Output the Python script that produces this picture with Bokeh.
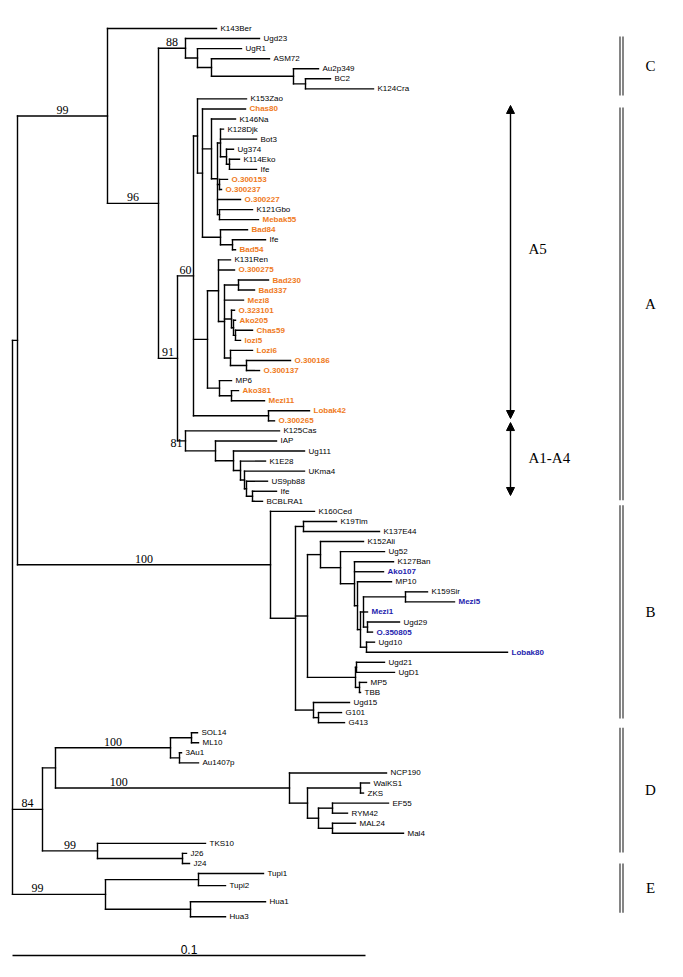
from bokeh.plotting import figure
from bokeh.models import Range1d, Arrow, NormalHead, ColumnDataSource
from bokeh.embed import file_html
from bokeh.resources import INLINE
from bokeh.core.properties import value

# ---------------- data (Newick clades, branch lengths in units of 1/3530 subst./site) ----
CLADE_C = "(Ugd23:74,(UgR1:44,(ASM72:58,(Au2p349:25,(BC2:25,K124Cra:68):12):82):14):12)88:27"
A5_UPPER = ("(K153Zao:49,(Chas80:43,(K146Na:24,((K128Djk:3,Bot3:36,(Ug374:7,(K114Eko:10,Ife:27):3):6):3,"
            "(O.300153:8,O.300237:2):2,O.300227:23,(K121Gbo:33,Mebak55:39):2):6):9,"
            "(Bad84:27,(Ife:33,Bad54:3):12):18):5):4")
A5_LOWER = ("((K131Ren:12,O.300275:16,((Bad230:30,Bad337:16):14,Mezi8:19,"
            "(O.323101:3,(Ako205:2,(Chas59:17,lozi5:5):2):2):7,(Lozi6:22,(O.300186:44,O.300137:13):16):6):6):11,"
            "(MP6:12,(Ako381:7,Mezi11:33):12):12):14")
A5_L42 = "(Lobak42:41,O.300265:6):75"
CLADE_A14 = "(K125Cas:94,(IAP:61,(Ug111:71,(K1E28:25,(UKma4:60,(US9pb88:21,(Ife:24,BCBLRA1:10):6):2):4):7):18):30)81:8"
B_CORE = ("(K152Ali:43,(Ug52:44,(K127Ban:39,Ako107:29,(MP10:34,(((K159Sir:22,Mezi5:49):42,Mezi1:4,"
          "(Ugd29:32,O.350805:5):4):3,(Ugd10:8,Lobak80:141):6):3):3):14):20):13")
B_UGD21 = "((Ugd21:28,UgD1:38):1,(MP5:7,TBB:1):4):48"
B_TIM = "(K19Tim:33,K137E44:76):8"
B_G = "(Ugd15:36,(G101:23,G413:26):5):18"
CLADE_D1 = "((SOL14:6,ML10:7):21,(3Au1:2,Au1407p:19):9)100:115"
CLADE_D2 = "(NCP190:97,((WalKS1:9,ZKS:3):53,((EF55:56,RYM42:15):14,(MAL24:23,Mal4:71):14):11):18)100:234"
CLADE_TKS = "(TKS10:108,(J26:4,J24:7):85)99:55"
CLADE_E = "((Tupi1:65,Tupi2:27):93,(Hua1:75,Hua3:35):85)99:93"

ORANGE_TAXA = ["Chas80", "O.300153", "O.300237", "O.300227", "Mebak55", "Bad84", "Bad54",
               "O.300275", "Bad230", "Bad337", "Mezi8", "O.323101", "Ako205", "Chas59", "lozi5",
               "Lozi6", "O.300186", "O.300137", "Ako381", "Mezi11", "Lobak42", "O.300265"]
BLUE_TAXA = ["Ako107", "Mezi5", "Mezi1", "O.350805", "Lobak80"]

SCALE_BAR = 0.1
SCALE_LABEL = "0.1"
# clade brackets: label, top row, bottom row
CLADES = [("C", 0.8, 6.66), ("A", 7.85, 46.9), ("B", 47.4, 68.6), ("D", 69.5, 81.9), ("E", 83.0, 87.9)]
# sub-clade arrows: label, top row, bottom row, label row
SUBCLADES = [("A5", 7.65, 38.77, 21.9), ("A1-A4", 39.17, 46.42, 42.7)]

A5 = "(" + A5_UPPER + "," + A5_LOWER + "," + A5_L42 + ")60:16"
NA = "(" + A5 + "," + CLADE_A14 + ")91:19"
N107 = "(K143Ber:109,(" + CLADE_C + "," + NA + ")96:51)99:90"
BROOT = "(K160Ced:44,(" + B_TIM + ",(" + B_CORE + "," + B_UGD21 + "):12," + B_G + "):25)100:253"
N42 = "((" + CLADE_D1 + "," + CLADE_D2 + "):13," + CLADE_TKS + ")84:30"
TREE = "((" + N107 + "," + BROOT + "):5," + N42 + "," + CLADE_E + ");"

# ---------------- layout constants ----------------
UNIT = SCALE_BAR / 353.0          # distance per Newick length unit
PX_PER_DIST = 353.0 / SCALE_BAR
ROOT_PX = 12.0
Y0_PX, ROW_PX = 28.0, 10.06
W, H = 667, 961
ROW_GAP = {"Tupi2": 0.2, "Hua1": 0.6, "Hua3": 0.5}
BOOT_FRAC = {"NCP190": 0.27, "Tupi1": 0.27}


def px_to_x(px):
    return (px - ROOT_PX) / PX_PER_DIST


def parse_newick(s):
    s = s.strip().rstrip(";")
    pos = 0

    def node():
        nonlocal pos
        n = {"children": [], "label": "", "length": 0.0}
        if s[pos] == "(":
            pos += 1
            while True:
                n["children"].append(node())
                ch = s[pos]
                pos += 1
                if ch == ")":
                    break
        st = pos
        while pos < len(s) and s[pos] not in ":,)":
            pos += 1
        n["label"] = s[st:pos]
        if pos < len(s) and s[pos] == ":":
            pos += 1
            st = pos
            while pos < len(s) and s[pos] not in ",)":
                pos += 1
            n["length"] = float(s[st:pos])
        return n

    return node()


tree = parse_newick(TREE)
rows = []


def layout(n, x, parent):
    n["x"] = x
    n["parent"] = parent
    if n["children"]:
        for c in n["children"]:
            layout(c, x + c["length"] * UNIT, n)
        n["y"] = (n["children"][0]["y"] + n["children"][-1]["y"]) / 2.0
    else:
        r = 0.0 if not rows else rows[-1] + 1.0 + ROW_GAP.get(n["label"], 0.0)
        rows.append(r)
        n["y"] = r


layout(tree, 0.0, None)

x0, y0, x1, y1 = [], [], [], []
leaves = []
boots = []


def first_leaf(n):
    while n["children"]:
        n = n["children"][0]
    return n["label"]


def walk(n):
    if n["children"]:
        x0.append(n["x"]); x1.append(n["x"])
        y0.append(n["children"][0]["y"]); y1.append(n["children"][-1]["y"])
        for c in n["children"]:
            x0.append(n["x"]); x1.append(c["x"]); y0.append(c["y"]); y1.append(c["y"])
            walk(c)
        if n["label"] and n["parent"] is not None:
            boots.append(n)
    else:
        leaves.append(n)


walk(tree)

last_row = rows[-1]
p = figure(width=W, height=H, output_backend="svg", toolbar_location=None,
           x_axis_type=None, y_axis_type=None, min_border=0,
           x_range=Range1d(px_to_x(0), px_to_x(W)),
           y_range=Range1d(start=(H - Y0_PX) / ROW_PX, end=(0 - Y0_PX) / ROW_PX))
p.grid.visible = False
p.outline_line_color = None
p.background_fill_color = "white"
p.border_fill_color = "white"

p.segment(x0=x0, y0=y0, x1=x1, y1=y1, line_color="black", line_width=1.4, line_cap="square")

# tip labels
black = {"x": [], "y": [], "t": []}
colored = {"x": [], "y": [], "t": [], "c": []}
for lf in leaves:
    name = lf["label"]
    if name in ORANGE_TAXA or name in BLUE_TAXA:
        colored["x"].append(lf["x"]); colored["y"].append(lf["y"]); colored["t"].append(name)
        colored["c"].append("#EF7A22" if name in ORANGE_TAXA else "#1E1EAE")
    else:
        black["x"].append(lf["x"]); black["y"].append(lf["y"]); black["t"].append(name)
p.text(x="x", y="y", text="t", source=ColumnDataSource(black), x_offset=4,
       text_font=value("Liberation Sans"), text_font_size="8px", text_baseline="middle",
       text_color="black")
p.text(x="x", y="y", text="t", text_color="c", source=ColumnDataSource(colored), x_offset=4,
       text_font=value("Liberation Sans"), text_font_size="8px", text_font_style="bold",
       text_baseline="middle")

# bootstrap values
for n in boots:
    par = n["parent"]
    key = first_leaf(n)
    if key == "K125Cas":
        p.text(x=[par["x"]], y=[n["y"]], text=[n["label"]], text_font=value("Liberation Serif"),
               text_font_size="12px", text_align="center", text_baseline="top", y_offset=-2, x_offset=-1)
        continue
    f = BOOT_FRAC.get(key, 0.5)
    p.text(x=[par["x"] + f * (n["x"] - par["x"])], y=[n["y"]], text=[n["label"]],
           text_font=value("Liberation Serif"), text_font_size="12px",
           text_align="center", text_baseline="bottom", y_offset=-2)

# clade brackets
bx = [px_to_x(619.5), px_to_x(622.5)]
for lab, top, bot in CLADES:
    for xx in bx:
        p.segment(x0=[xx], y0=[top], x1=[xx], y1=[bot], line_color="#222222", line_width=1.1)
    p.text(x=[px_to_x(650)], y=[(top + bot) / 2], text=[lab], text_font=value("Liberation Serif"),
           text_font_size="15px", text_align="center", text_baseline="middle")

ax = px_to_x(510)
for lab, top, bot, lrow in SUBCLADES:
    p.add_layout(Arrow(x_start=ax, y_start=top, x_end=ax, y_end=bot, line_width=1.4,
                       start=NormalHead(size=8, fill_color="black", line_color="black"),
                       end=NormalHead(size=8, fill_color="black", line_color="black")))
    p.text(x=[px_to_x(528)], y=[lrow], text=[lab], text_font=value("Liberation Serif"),
           text_font_size="15px", text_align="left", text_baseline="middle")

# scale bar
sb_row = last_row + 3.85
p.segment(x0=[0.0], y0=[sb_row], x1=[SCALE_BAR], y1=[sb_row], line_color="black", line_width=1.4)
p.text(x=[SCALE_BAR / 2], y=[sb_row], text=[SCALE_LABEL], text_font=value("Liberation Sans"),
       text_font_size="12px", text_align="center", text_baseline="bottom", y_offset=-2)

open("out.html", "w").write(file_html(p, INLINE))
